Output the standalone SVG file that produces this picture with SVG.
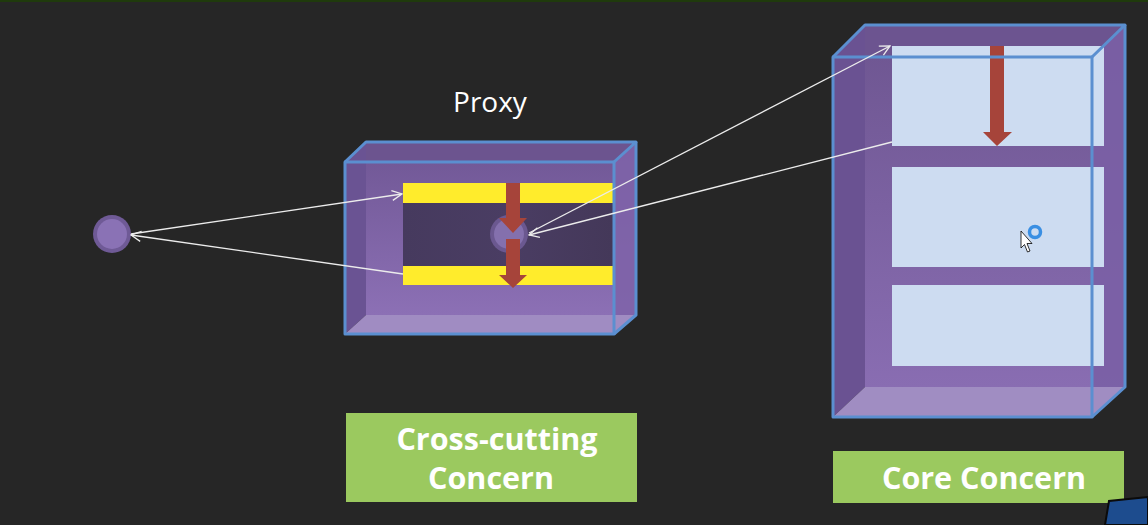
<svg xmlns="http://www.w3.org/2000/svg" width="1148" height="525" viewBox="0 0 1148 525">
<style>
.edge{fill:none;stroke:#5b8fd0;stroke-width:3;stroke-linejoin:round}
.conn{fill:none;stroke:#ececec;stroke-width:1.3}
.lbl{fill:#ffffff;font-family:"Open Sans","Noto Sans",sans-serif;font-weight:bold;font-size:30.5px;text-anchor:middle}
.green{fill:#9bc95f}
.red{fill:#a6443a}
.panel{fill:#cddcf1}
</style>
<defs>
<marker id="head" viewBox="0 0 12 12" refX="11" refY="6" markerWidth="12" markerHeight="12" markerUnits="userSpaceOnUse" orient="auto">
<path d="M1,1 L11,6 L1,11" fill="none" stroke="#ececec" stroke-width="1.3"/>
</marker>
<linearGradient id="backP" x1="0" y1="0" x2="0" y2="1">
<stop offset="0" stop-color="#6f5694"/>
<stop offset="1" stop-color="#8c70b5"/>
</linearGradient>
<linearGradient id="backC" x1="0" y1="0" x2="0" y2="1">
<stop offset="0" stop-color="#6d5590"/>
<stop offset="1" stop-color="#896db2"/>
</linearGradient>
<linearGradient id="midP" x1="0" y1="0" x2="1" y2="0">
<stop offset="0" stop-color="#463a5e"/>
<stop offset="0.5" stop-color="#4a3d63"/>
<stop offset="1" stop-color="#443859"/>
</linearGradient>
</defs>
<rect width="1148" height="525" fill="#262626"/>
<rect width="1148" height="2" fill="#1f3a0c"/>

<g id="client">
<circle cx="112" cy="234" r="19" fill="#6f5a96"/>
<circle cx="112" cy="234" r="15" fill="#8a72b5"/>
</g>

<g id="proxy">
<text x="490" y="112" fill="#ffffff" font-family="'Open Sans','Noto Sans',sans-serif" font-size="28" text-anchor="middle">Proxy</text>
<rect x="366" y="142" width="270" height="173" fill="url(#backP)"/>
<polygon points="345,162 366,142 636,142 614,162" fill="#6c548f"/>
<polygon points="345,162 366,142 366,315 345,334" fill="#6a5393"/>
<polygon points="614,162 636,142 636,315 614,334" fill="#7e63a8" opacity="0.9"/>
<polygon points="345,334 366,315 636,315 614,334" fill="#a08cc2"/>
<rect x="403" y="203" width="210" height="63" fill="url(#midP)"/>
<rect x="403" y="183" width="210" height="20" fill="#ffec2c"/>
<rect x="403" y="266" width="210" height="19" fill="#ffec2c"/>
<circle cx="509" cy="234" r="19" fill="#6b5890"/>
<circle cx="509" cy="234" r="15" fill="#8470ad"/>
<polygon class="red" points="506,183 520,183 520,218 527,218 513,233 499,218 506,218"/>
<polygon class="red" points="506,239 520,239 520,275 527,275 513,288 499,275 506,275"/>
<rect x="345" y="162" width="269" height="172" class="edge"/>
<polyline class="edge" points="345,162 366,142 636,142 614,162"/>
<polyline class="edge" points="636,142 636,315 614,334"/>
</g>

<g id="core">
<rect x="865" y="25" width="260" height="362" fill="url(#backC)"/>
<polygon points="833,57 865,25 1125,25 1092,57" fill="#6c5490"/>
<polygon points="833,57 865,25 865,387 833,417" fill="#6a5292"/>
<polygon points="1092,57 1125,25 1125,387 1092,417" fill="#7a5fa5" opacity="0.9"/>
<polygon points="833,417 865,387 1125,387 1092,417" fill="#a08dc2"/>
<rect class="panel" x="892" y="46" width="212" height="100"/>
<rect class="panel" x="892" y="167" width="212" height="100"/>
<rect class="panel" x="892" y="285" width="212" height="81"/>
<polygon class="red" points="990,46 1004,46 1004,132 1012,132 997,146 983,132 990,132"/>
<rect x="833" y="57" width="259" height="360" class="edge"/>
<polyline class="edge" points="833,57 865,25 1125,25 1092,57"/>
<polyline class="edge" points="1125,25 1125,387 1092,417"/>
<circle cx="1035" cy="232" r="5.5" fill="none" stroke="#3a8fe3" stroke-width="3.5"/>
<path d="M1021,231 L1021,248 L1024.5,244.5 L1027.5,252 L1030,251 L1027,243.5 L1032,243.5 Z" fill="#ffffff" stroke="#000000" stroke-width="0.8"/>
</g>

<g id="connectors">
<line class="conn" x1="131" y1="234" x2="402" y2="194" marker-end="url(#head)"/>
<line class="conn" x1="403" y1="274" x2="131" y2="235" marker-end="url(#head)"/>
<line class="conn" x1="529" y1="233" x2="890" y2="46" marker-end="url(#head)"/>
<line class="conn" x1="892" y1="142" x2="529" y2="235" marker-end="url(#head)"/>
</g>

<g id="label-cross">
<rect class="green" x="346" y="413" width="291" height="89"/>
<text class="lbl" x="497" y="450">Cross-cutting</text>
<text class="lbl" x="491" y="489">Concern</text>
</g>

<g id="label-core">
<rect class="green" x="833" y="451" width="291" height="52"/>
<text class="lbl" x="984" y="489">Core Concern</text>
</g>

<polygon points="1105,525 1109,501 1148,497 1148,525" fill="#1d4c8e" stroke="#0b0b0b" stroke-width="2"/>
</svg>
